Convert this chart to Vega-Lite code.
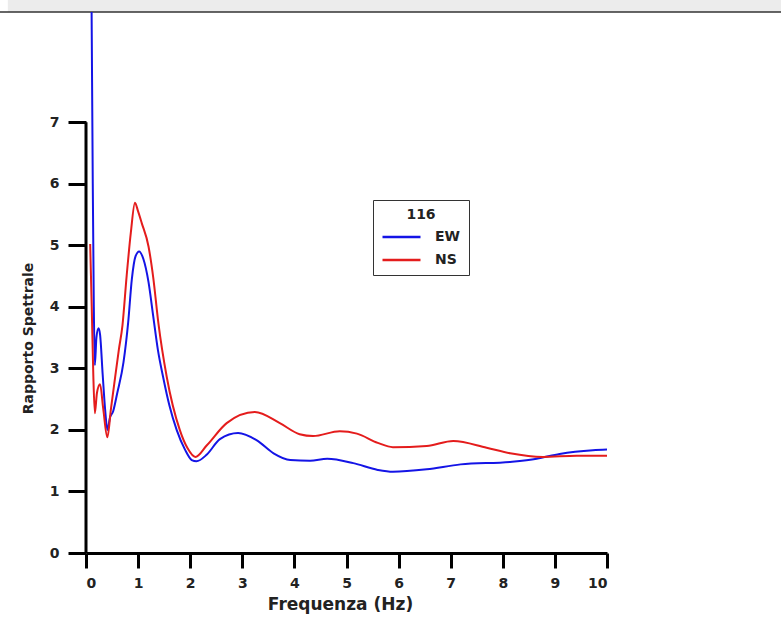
{
  "$schema": "https://vega.github.io/schema/vega-lite/v6.json",
  "width": 521,
  "height": 541,
  "autosize": {"type": "none"},
  "padding": {"left": 86, "top": 12, "right": 174, "bottom": 82},
  "background": "white",
  "config": {
    "view": {"stroke": null},
    "font": "DejaVu Sans"
  },
  "datasets": {
    "spectra": [
      {"comp": "EW", "f": 0.09, "r": 11.0},
      {"comp": "EW", "f": 0.11, "r": 8.5},
      {"comp": "EW", "f": 0.13, "r": 6.0},
      {"comp": "EW", "f": 0.15, "r": 4.0},
      {"comp": "EW", "f": 0.17, "r": 3.05},
      {"comp": "EW", "f": 0.2, "r": 3.5},
      {"comp": "EW", "f": 0.24, "r": 3.65},
      {"comp": "EW", "f": 0.27, "r": 3.55},
      {"comp": "EW", "f": 0.32, "r": 2.9},
      {"comp": "EW", "f": 0.37, "r": 2.3},
      {"comp": "EW", "f": 0.41, "r": 2.0},
      {"comp": "EW", "f": 0.46, "r": 2.2},
      {"comp": "EW", "f": 0.52, "r": 2.3},
      {"comp": "EW", "f": 0.6, "r": 2.6},
      {"comp": "EW", "f": 0.72, "r": 3.1},
      {"comp": "EW", "f": 0.81, "r": 3.75},
      {"comp": "EW", "f": 0.88, "r": 4.45},
      {"comp": "EW", "f": 0.95, "r": 4.82},
      {"comp": "EW", "f": 1.02, "r": 4.9},
      {"comp": "EW", "f": 1.1, "r": 4.78},
      {"comp": "EW", "f": 1.2, "r": 4.4},
      {"comp": "EW", "f": 1.29, "r": 3.85},
      {"comp": "EW", "f": 1.38, "r": 3.3},
      {"comp": "EW", "f": 1.48, "r": 2.86},
      {"comp": "EW", "f": 1.6, "r": 2.4},
      {"comp": "EW", "f": 1.74, "r": 2.0},
      {"comp": "EW", "f": 1.9, "r": 1.68},
      {"comp": "EW", "f": 2.03, "r": 1.51},
      {"comp": "EW", "f": 2.12, "r": 1.49},
      {"comp": "EW", "f": 2.32, "r": 1.6},
      {"comp": "EW", "f": 2.57, "r": 1.85},
      {"comp": "EW", "f": 2.92, "r": 1.95},
      {"comp": "EW", "f": 3.28, "r": 1.83},
      {"comp": "EW", "f": 3.6, "r": 1.62},
      {"comp": "EW", "f": 3.92, "r": 1.51},
      {"comp": "EW", "f": 4.3, "r": 1.5},
      {"comp": "EW", "f": 4.63, "r": 1.53},
      {"comp": "EW", "f": 5.13, "r": 1.46},
      {"comp": "EW", "f": 5.6, "r": 1.35},
      {"comp": "EW", "f": 5.89, "r": 1.32},
      {"comp": "EW", "f": 6.54, "r": 1.36},
      {"comp": "EW", "f": 7.19, "r": 1.44},
      {"comp": "EW", "f": 8.14, "r": 1.48},
      {"comp": "EW", "f": 8.65, "r": 1.53},
      {"comp": "EW", "f": 9.09, "r": 1.61},
      {"comp": "EW", "f": 9.73, "r": 1.67},
      {"comp": "EW", "f": 10.0, "r": 1.68},
      {"comp": "NS", "f": 0.08, "r": 5.02},
      {"comp": "NS", "f": 0.11, "r": 4.0},
      {"comp": "NS", "f": 0.14, "r": 2.9},
      {"comp": "NS", "f": 0.17, "r": 2.27},
      {"comp": "NS", "f": 0.21, "r": 2.6},
      {"comp": "NS", "f": 0.27, "r": 2.74},
      {"comp": "NS", "f": 0.33, "r": 2.35},
      {"comp": "NS", "f": 0.41, "r": 1.88},
      {"comp": "NS", "f": 0.48, "r": 2.35},
      {"comp": "NS", "f": 0.56, "r": 2.86},
      {"comp": "NS", "f": 0.63, "r": 3.3},
      {"comp": "NS", "f": 0.7, "r": 3.7},
      {"comp": "NS", "f": 0.78, "r": 4.5},
      {"comp": "NS", "f": 0.86, "r": 5.2},
      {"comp": "NS", "f": 0.94, "r": 5.69},
      {"comp": "NS", "f": 1.0, "r": 5.55},
      {"comp": "NS", "f": 1.07, "r": 5.36},
      {"comp": "NS", "f": 1.2, "r": 4.98},
      {"comp": "NS", "f": 1.29, "r": 4.48},
      {"comp": "NS", "f": 1.39, "r": 3.73},
      {"comp": "NS", "f": 1.55, "r": 2.86},
      {"comp": "NS", "f": 1.8, "r": 2.0},
      {"comp": "NS", "f": 1.95, "r": 1.7},
      {"comp": "NS", "f": 2.1, "r": 1.56},
      {"comp": "NS", "f": 2.32, "r": 1.75},
      {"comp": "NS", "f": 2.7, "r": 2.11},
      {"comp": "NS", "f": 3.24, "r": 2.29},
      {"comp": "NS", "f": 3.72, "r": 2.11},
      {"comp": "NS", "f": 4.1, "r": 1.93},
      {"comp": "NS", "f": 4.36, "r": 1.9},
      {"comp": "NS", "f": 4.87, "r": 1.98},
      {"comp": "NS", "f": 5.2, "r": 1.94},
      {"comp": "NS", "f": 5.6, "r": 1.79},
      {"comp": "NS", "f": 5.89, "r": 1.72},
      {"comp": "NS", "f": 6.54, "r": 1.74},
      {"comp": "NS", "f": 7.05, "r": 1.82},
      {"comp": "NS", "f": 7.69, "r": 1.71},
      {"comp": "NS", "f": 8.14, "r": 1.62},
      {"comp": "NS", "f": 8.77, "r": 1.56},
      {"comp": "NS", "f": 9.42, "r": 1.58},
      {"comp": "NS", "f": 10.0, "r": 1.58}
    ]
  },
  "layer": [
    {
      "data": {"values": [{}]},
      "mark": {"type": "rect", "color": "#ececec", "clip": false},
      "encoding": {
        "x": {"datum": -1.5, "type": "quantitative", "scale": {"domain": [0, 10]}},
        "x2": {"datum": 13.4},
        "y": {"datum": 8.79, "type": "quantitative"},
        "y2": {"datum": 9.1}
      }
    },
    {
      "data": {"values": [{}]},
      "mark": {"type": "rule", "color": "#333333", "strokeWidth": 1.5, "clip": false},
      "encoding": {
        "x": {"datum": -1.7, "type": "quantitative"},
        "x2": {"datum": 13.4},
        "y": {"datum": 8.79, "type": "quantitative"}
      }
    },
    {
      "data": {"values": [{}]},
      "mark": {"type": "rule", "color": "black", "strokeWidth": 3},
      "encoding": {
        "x": {"datum": 0, "type": "quantitative"},
        "y": {"datum": 0, "type": "quantitative"},
        "y2": {"datum": 7}
      }
    },
    {
      "data": {"name": "spectra"},
      "mark": {"type": "line", "strokeWidth": 2, "interpolate": "monotone", "clip": true},
      "encoding": {
        "x": {
          "field": "f",
          "type": "quantitative",
          "scale": {"domain": [0, 10], "nice": false, "zero": false},
          "axis": {
            "title": "Frequenza (Hz)",
            "values": [0, 1, 2, 3, 4, 5, 6, 7, 8, 9, 10],
            "format": "d",
            "grid": false,
            "domainColor": "black",
            "domainWidth": 3,
            "tickColor": "black",
            "tickWidth": 3,
            "tickSize": 15,
            "labelFont": "DejaVu Sans",
            "labelFontWeight": "bold",
            "labelFontSize": 14,
            "labelColor": "#222222",
            "labelPadding": 8,
            "titleFont": "DejaVu Sans",
            "titleFontWeight": "bold",
            "titleFontSize": 17,
            "titleColor": "#222222",
            "titlePadding": 6,
            "titleX": 254
          }
        },
        "y": {
          "field": "r",
          "type": "quantitative",
          "scale": {"domain": [0, 8.79], "nice": false, "zero": false},
          "axis": {
            "title": "Rapporto Spettrale",
            "values": [0, 1, 2, 3, 4, 5, 6, 7],
            "format": "d",
            "grid": false,
            "domain": false,
            "tickColor": "black",
            "tickWidth": 3,
            "tickSize": 18,
            "labelFont": "DejaVu Sans",
            "labelFontWeight": "bold",
            "labelFontSize": 14,
            "labelColor": "#222222",
            "labelPadding": 9,
            "titleFont": "DejaVu Sans",
            "titleFontWeight": "bold",
            "titleFontSize": 14,
            "titleColor": "#222222",
            "titleY": 326,
            "titlePadding": 14
          }
        },
        "color": {
          "field": "comp",
          "type": "nominal",
          "scale": {"domain": ["EW", "NS"], "range": ["#1414e6", "#e41c1c"]},
          "legend": {
            "title": "116",
            "orient": "none",
            "legendX": 287,
            "legendY": 188,
            "direction": "vertical",
            "symbolType": "M-1,0H3",
            "symbolSize": 361,
            "symbolStrokeWidth": 2.5,
            "symbolFillColor": "transparent",
            "titleAnchor": "middle",
            "titleFont": "DejaVu Sans",
            "titleFontWeight": "bold",
            "titleFontSize": 14,
            "titleColor": "#222222",
            "labelFont": "DejaVu Sans",
            "labelFontWeight": "bold",
            "labelFontSize": 14,
            "labelColor": "#222222",
            "strokeColor": "#333333",
            "fillColor": "white",
            "padding": 8,
            "rowPadding": 5,
            "titlePadding": 4,
            "labelOffset": 32,
            "labelExpr": "datum.label + '  '"
          }
        }
      }
    }
  ]
}
